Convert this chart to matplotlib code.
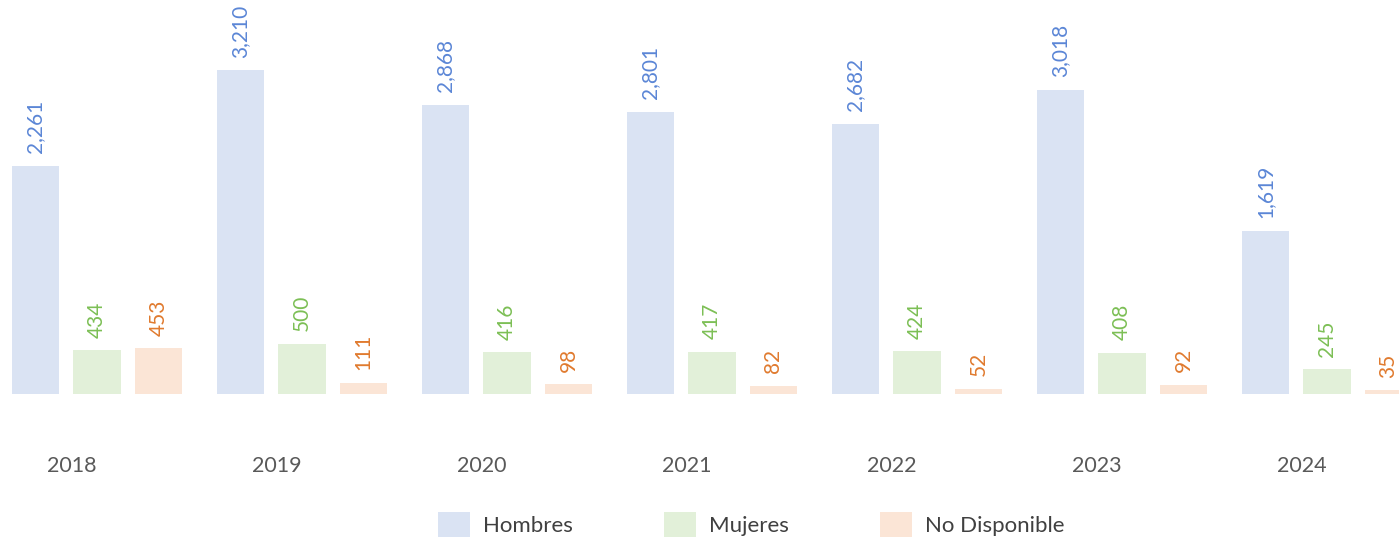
import matplotlib.pyplot as plt
from matplotlib.patches import Patch

years = ['2018', '2019', '2020', '2021', '2022', '2023', '2024']
hombres = [2261, 3210, 2868, 2801, 2682, 3018, 1619]
mujeres = [434, 500, 416, 417, 424, 408, 245]
no_disp = [453, 111, 98, 82, 52, 92, 35]

series = ['Hombres', 'Mujeres', 'No Disponible']
bar_colors = ['#dae3f3', '#e2f0d9', '#fbe5d6']
text_colors = ['#5b86d6', '#7cbf55', '#e07a2e']

plt.rcParams['font.family'] = ['Lato', 'DejaVu Sans']

fig = plt.figure(figsize=(13.99, 5.41), dpi=100)
ax = fig.add_axes([0, (541 - 394) / 541, 1, 394 / 541])

step = 0.3
width = 0.234
for k, (vals, bc, tc) in enumerate(zip([hombres, mujeres, no_disp], bar_colors, text_colors)):
    xs = [i + (k - 1) * step for i in range(len(years))]
    ax.bar(xs, vals, width=width, color=bc, label=series[k])
    for x, v in zip(xs, vals):
        ax.annotate(f'{v:,}', (x, v), xytext=(0, 9), textcoords='offset points',
                    rotation=90, ha='center', va='bottom', color=tc, fontsize=15)

ax.set_xlim(-97 / 205, (1399 - 97) / 205)
ax.set_ylim(0, 3907)
ax.set_xticks([i - 0.122 for i in range(len(years))])
ax.set_xticklabels(years, fontsize=15.5, color='#595959')
ax.tick_params(axis='x', length=0, pad=45)
ax.set_yticks([])
for s in ax.spines.values():
    s.set_visible(False)

handles = [Patch(facecolor=c) for c in bar_colors]
fig.legend(handles, series, loc='center', bbox_to_anchor=(0.537, 0.03), ncol=3,
           frameon=False, fontsize=16, labelcolor='#404040', handlelength=1.44,
           handleheight=1.35, handletextpad=0.6, columnspacing=4.1)

fig.savefig('out.png', dpi=100)
